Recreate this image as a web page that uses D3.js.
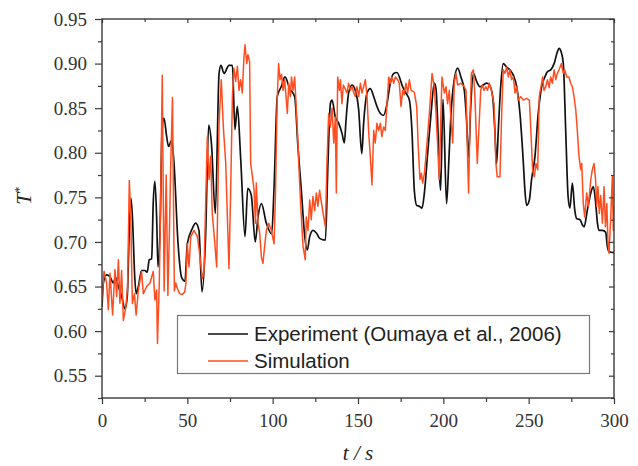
<!DOCTYPE html>
<html><head><meta charset="utf-8">
<script src="https://cdn.jsdelivr.net/npm/d3@7"></script>
<style>html,body{margin:0;padding:0;background:#fff;}</style>
</head><body>
<svg id="c" width="638" height="466"></svg>
<script>
const expT = [0,0.8,2.7,4.7,6.6,8,9.6,11.5,13.5,14.8,16,17,18,19,20,21.3,23.2,25.2,26.5,27.7,29.1,30,31,32,32.8,34,35.2,36.3,37.9,39,40.8,42.2,44.5,46.7,48.6,50,52.9,54.9,56.8,58.6,60.7,62.5,64.1,66.4,68.6,69.7,71.5,74.4,76.4,77.9,79.3,81.3,83.8,85.4,87.5,89.8,91.4,93.4,96.3,99.4,100.8,102.7,105,107.2,110,112.9,114.8,116.8,118.8,120.3,121.7,123.6,125.6,127.5,130.9,132.4,133.8,134.8,136.7,138.7,140.6,142,143,144.5,146.5,148.4,150.4,152.2,153.3,155.3,157.2,159.2,161.1,163.1,165,167,168.9,170.9,172.8,176.2,178.1,180.1,181.6,183,184.4,185.9,187.5,188.9,190.8,192.8,194.7,195.7,196.7,197.6,198.4,199.8,201.9,203.2,204.5,206.4,208.4,210.3,212.3,213.5,214.8,216,217.6,219.5,221.5,225.4,227,228.9,230.2,231.2,232.2,233.6,235.1,237.1,239,241,243,244.9,246.9,247.8,248.8,250.4,251.7,253.7,255.6,257.6,259.5,261,262.9,264.9,266.8,267.8,269.2,270.3,271.7,273.1,274.2,275.6,277,278.2,280.1,281.5,282.5,284.4,286.4,287.9,289.3,290.3,291.2,293.2,295.1,296.1,297.1,300];
const expV = [0.627,0.654,0.663,0.661,0.654,0.660,0.650,0.639,0.625,0.639,0.713,0.749,0.721,0.668,0.642,0.650,0.668,0.668,0.666,0.680,0.681,0.743,0.768,0.728,0.672,0.713,0.825,0.839,0.818,0.807,0.814,0.788,0.700,0.660,0.656,0.698,0.715,0.721,0.713,0.644,0.706,0.831,0.811,0.732,0.889,0.898,0.889,0.898,0.898,0.826,0.852,0.792,0.706,0.760,0.752,0.700,0.728,0.743,0.721,0.709,0.760,0.863,0.874,0.885,0.872,0.863,0.807,0.758,0.706,0.691,0.706,0.713,0.710,0.704,0.702,0.788,0.855,0.859,0.840,0.833,0.822,0.811,0.837,0.867,0.876,0.870,0.848,0.799,0.833,0.867,0.872,0.863,0.852,0.844,0.842,0.855,0.878,0.889,0.890,0.874,0.867,0.859,0.825,0.758,0.741,0.740,0.738,0.755,0.799,0.844,0.878,0.872,0.833,0.781,0.758,0.860,0.743,0.790,0.844,0.882,0.895,0.885,0.870,0.840,0.795,0.850,0.889,0.880,0.874,0.878,0.876,0.863,0.825,0.788,0.825,0.874,0.900,0.896,0.893,0.887,0.874,0.844,0.788,0.758,0.741,0.747,0.770,0.796,0.844,0.874,0.885,0.891,0.893,0.900,0.913,0.917,0.912,0.900,0.825,0.751,0.738,0.766,0.736,0.726,0.725,0.719,0.717,0.736,0.755,0.762,0.743,0.721,0.713,0.713,0.711,0.695,0.689,0.688];

const simT = [0,1.2,2.7,3.7,4.7,6.2,7.6,8.6,9.6,10.5,11.5,12.5,14,15,16,16.8,17.8,19,20,21.3,23.2,24.2,26.2,28.1,30,31,32,32.5,33.6,34.4,35.3,36.4,37.6,38.6,39.6,40.2,41.3,42.4,43.2,44.1,45.5,47,48.5,49.2,50,51,52,53.9,55.9,57,58.8,59.8,60.7,61.7,62.7,63.7,64.6,65.6,67.2,68.6,69.9,71.1,72.5,73.4,74.4,75.4,76.4,77.3,78.3,79.3,80.3,81.2,82.2,83.2,83.8,84.8,85.5,86.5,87.1,87.9,89.1,89.9,90.4,91.4,92.4,93.4,94.3,95.3,96.3,97.7,99.2,100.8,101.6,102.7,103.5,104.3,105.2,106.1,107,108,108.6,109.4,110.4,111,112,112.9,114.5,115.8,116.8,117.8,119.1,119.7,120.7,121.7,122.6,123.6,124.6,125.6,126.5,127.5,128.5,129.9,130.9,131.8,132.8,133.8,134.8,135.8,136.7,137.3,138.1,139.1,139.7,140.6,141.4,142.4,143.5,144.5,145.5,146.5,147.4,148.4,149.4,150.4,151.4,152.3,153.3,154.3,155.3,156.2,157.2,158.2,159.2,160.1,161.1,162.1,163.1,164,165,166,167,168,168.9,169.9,170.9,171.9,173.2,174.2,175.2,176.2,177.1,178.1,179.1,180.1,181.1,183,184.4,185.3,186.3,187.1,187.9,188.9,189.8,191.8,193.4,194.7,195.7,196.7,197.6,198.6,199.2,200.6,201.6,202.5,203.5,204.5,205.5,206.4,207.4,208.4,210.3,212.3,213.3,214.3,214.8,215.6,216.4,217.6,218.5,219.9,220.8,221.9,222.9,223.8,224.9,225.9,226.9,228.2,229.7,230.8,231.6,233.2,234.2,235.1,236.1,237.1,238.1,239,240,241,242,243,243.9,245.3,246.9,248.8,250.4,251.1,252.3,253.3,254.3,255.3,256.2,257.2,258.2,259,260,261,262,262.9,263.9,264.9,265.9,266.8,267.8,269.2,270.3,271.1,272.3,273.6,274.6,275.6,276.6,277.6,278.5,279.5,280.5,281.1,282,282.8,284,285,286.4,287.3,288.3,289.2,289.9,290.6,291.4,292.2,293.2,294.2,295,295.8,296.5,297.1,298.1,299,299.6,300];
const simV = [0.635,0.667,0.654,0.624,0.665,0.618,0.669,0.639,0.680,0.631,0.668,0.612,0.627,0.650,0.769,0.732,0.631,0.642,0.618,0.646,0.667,0.642,0.650,0.654,0.667,0.635,0.646,0.586,0.657,0.751,0.887,0.645,0.775,0.640,0.720,0.781,0.862,0.645,0.654,0.648,0.642,0.641,0.644,0.654,0.698,0.672,0.706,0.713,0.706,0.690,0.659,0.668,0.740,0.818,0.770,0.796,0.732,0.710,0.672,0.833,0.882,0.829,0.788,0.732,0.670,0.758,0.863,0.895,0.880,0.897,0.870,0.882,0.867,0.908,0.921,0.900,0.910,0.902,0.788,0.777,0.758,0.721,0.766,0.721,0.710,0.683,0.676,0.695,0.713,0.721,0.713,0.698,0.751,0.863,0.900,0.882,0.888,0.870,0.882,0.859,0.844,0.878,0.863,0.885,0.870,0.885,0.825,0.766,0.728,0.695,0.680,0.728,0.713,0.747,0.725,0.751,0.735,0.755,0.740,0.758,0.745,0.728,0.717,0.788,0.844,0.829,0.850,0.811,0.840,0.755,0.885,0.870,0.882,0.855,0.876,0.872,0.867,0.878,0.870,0.874,0.868,0.863,0.874,0.863,0.878,0.867,0.874,0.882,0.863,0.825,0.796,0.764,0.825,0.811,0.833,0.825,0.833,0.818,0.829,0.825,0.855,0.885,0.878,0.885,0.878,0.885,0.882,0.878,0.852,0.870,0.865,0.878,0.867,0.882,0.870,0.868,0.852,0.807,0.770,0.777,0.766,0.777,0.796,0.844,0.889,0.874,0.844,0.807,0.770,0.844,0.885,0.867,0.874,0.855,0.870,0.837,0.811,0.878,0.889,0.876,0.878,0.874,0.870,0.788,0.755,0.833,0.889,0.893,0.863,0.788,0.825,0.870,0.876,0.870,0.874,0.870,0.878,0.870,0.855,0.788,0.773,0.773,0.844,0.893,0.889,0.896,0.885,0.893,0.882,0.885,0.867,0.874,0.859,0.863,0.859,0.861,0.859,0.833,0.781,0.773,0.788,0.781,0.863,0.874,0.885,0.870,0.874,0.882,0.873,0.885,0.878,0.893,0.882,0.889,0.893,0.900,0.889,0.893,0.885,0.885,0.878,0.874,0.863,0.848,0.825,0.796,0.781,0.788,0.743,0.728,0.755,0.740,0.770,0.781,0.788,0.770,0.740,0.762,0.732,0.752,0.721,0.762,0.717,0.743,0.698,0.687,0.728,0.773,0.713,0.740];

const xMajor = [0,50,100,150,200,250,300];
const xMinor = [25,75,125,175,225,275];
const yMajor = [0.55,0.60,0.65,0.70,0.75,0.80,0.85,0.90,0.95];
const yMinor = [0.525,0.575,0.625,0.675,0.725,0.775,0.825,0.875,0.925];
const legendLabels = ["Experiment (Oumaya et al., 2006)","Simulation"];

const L=102,R=614,T=19,B=398;
const svg=d3.select("#c");
const x=d3.scaleLinear().domain([0,300]).range([L,R]);
const y=d3.scaleLinear().domain([0.525,0.95]).range([B,T]);
const axisCol="#3a3a3a";
const serif="'Liberation Serif','Times New Roman',serif";
const sans="'Liberation Sans',Arial,sans-serif";

svg.append("clipPath").attr("id","pc").append("rect").attr("x",L).attr("y",T).attr("width",R-L).attr("height",B-T);

const expData=expT.map((t,i)=>[t,expV[i]]);
const simData=simT.map((t,i)=>[t,simV[i]]);
const g=svg.append("g").attr("clip-path","url(#pc)");
g.append("path").datum(expData).attr("d",d3.line().x(d=>x(d[0])).y(d=>y(d[1])).curve(d3.curveMonotoneX)).attr("fill","none").attr("stroke","#111").attr("stroke-width",1.7).attr("stroke-linejoin","round");
g.append("path").datum(simData).attr("d",d3.line().x(d=>x(d[0])).y(d=>y(d[1]))).attr("fill","none").attr("stroke","#ff4d1f").attr("stroke-width",1.5).attr("stroke-linejoin","round");

function styleAxis(sel){sel.attr("font-family",null).attr("font-size",null);sel.select(".domain").remove();sel.selectAll("line").attr("stroke",axisCol).attr("stroke-width",1.2);sel.selectAll("text").attr("fill","#333").style("font-family",serif).style("font-size","19px");}
svg.append("g").attr("transform",`translate(0,${B})`).call(d3.axisBottom(x).tickValues(xMajor).tickSize(6).tickPadding(10).tickFormat(d3.format("d"))).call(styleAxis);
svg.append("g").attr("transform",`translate(0,${B})`).call(d3.axisBottom(x).tickValues(xMinor).tickSize(4).tickFormat("")).call(styleAxis);
svg.append("g").attr("transform",`translate(0,${T})`).call(d3.axisBottom(x).tickValues(xMajor).tickSize(4).tickFormat("")).call(styleAxis);
svg.append("g").attr("transform",`translate(0,${T})`).call(d3.axisBottom(x).tickValues(xMinor).tickSize(3).tickFormat("")).call(styleAxis);
svg.append("g").attr("transform",`translate(${L},0)`).call(d3.axisLeft(y).tickValues(yMajor).tickSize(7).tickPadding(8).tickFormat(d3.format(".2f"))).call(styleAxis);
svg.append("g").attr("transform",`translate(${L},0)`).call(d3.axisLeft(y).tickValues(yMinor).tickSize(4).tickFormat("")).call(styleAxis);
svg.append("g").attr("transform",`translate(${R},0)`).call(d3.axisLeft(y).tickValues(yMajor).tickSize(5).tickFormat("")).call(styleAxis);
svg.append("g").attr("transform",`translate(${R},0)`).call(d3.axisLeft(y).tickValues(yMinor).tickSize(3).tickFormat("")).call(styleAxis);

svg.append("rect").attr("x",L).attr("y",T).attr("width",R-L).attr("height",B-T).attr("fill","none").attr("stroke",axisCol).attr("stroke-width",1.4);

svg.append("text").attr("x",358).attr("y",460).attr("text-anchor","middle").style("font-family",serif).style("font-style","italic").style("font-size","21px").attr("fill","#222").text("t / s");
const yl=svg.append("text").attr("transform","translate(31,196) rotate(-90)").attr("text-anchor","middle").style("font-family",serif).style("font-style","italic").style("font-size","21px").attr("fill","#222");
yl.append("tspan").text("T");
yl.append("tspan").attr("dy",-8).style("font-size","12px").text("*");

const lg=svg.append("g");
lg.append("rect").attr("x",177.5).attr("y",315.5).attr("width",412).attr("height",58).attr("fill","#fff").attr("stroke","#777").attr("stroke-width",1.2);
const lcols=["#111","#ff4d1f"];
legendLabels.forEach((lab,i)=>{
  const yy=334+i*27;
  lg.append("line").attr("x1",208).attr("x2",248).attr("y1",yy).attr("y2",yy).attr("stroke",lcols[i]).attr("stroke-width",1.6);
  lg.append("text").attr("x",254).attr("y",yy+7).style("font-family",sans).style("font-size","20.5px").attr("fill","#222").text(lab);
});
</script>
</body></html>
